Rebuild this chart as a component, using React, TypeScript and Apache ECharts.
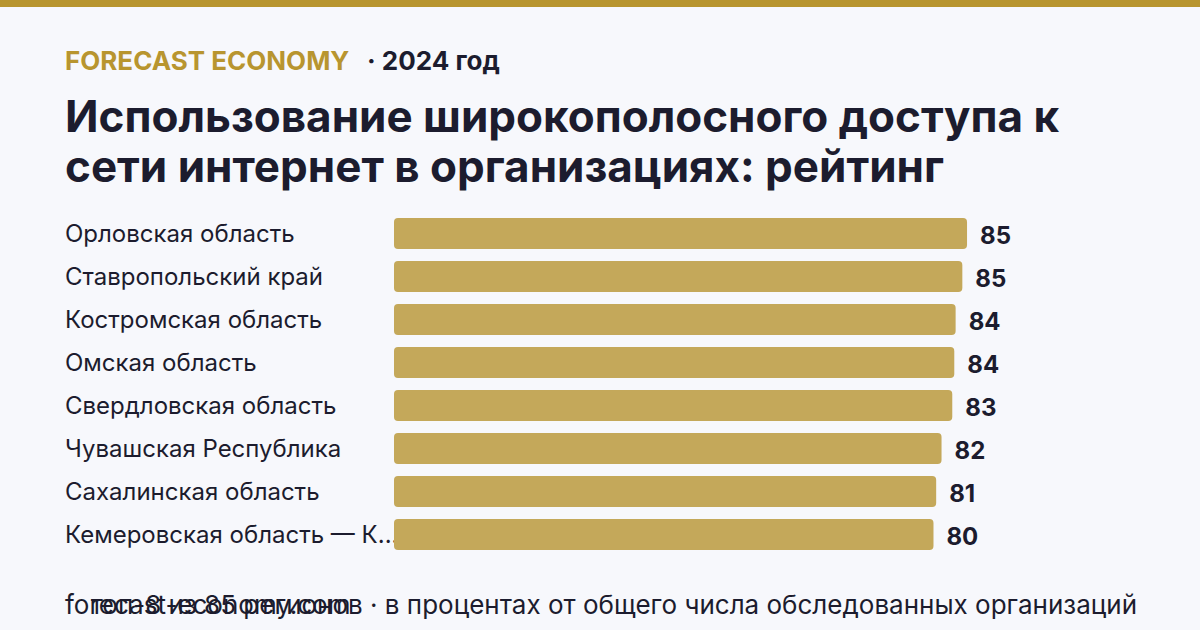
import React, { useEffect, useRef } from "react";
import * as echarts from "echarts";

const regions = [
  "Орловская область",
  "Ставропольский край",
  "Костромская область",
  "Омская область",
  "Свердловская область",
  "Чувашская Республика",
  "Сахалинская область",
  "Кемеровская область — Кузбасс",
];
const values = [85.4, 84.7, 83.7, 83.5, 83.2, 81.6, 80.8, 80.4];

const brand = "FORECAST ECONOMY";
const yearText = "· 2024 год";
const titleLines = ["Использование широкополосного доступа к", "сети интернет в организациях: рейтинг"];
const source = "forecast-economy.com";
const note = "топ-8 из 85 регионов · в процентах от общего числа обследованных организаций";

const GOLD = "#b8952f";
const BAR = "#c4a85a";
const DARK = "#1c1c2e";
const BG = "#f7f8fc";
const FONT = "Inter, 'Noto Sans', sans-serif";
const MAX_CHARS = 23;

export default function App() {
  const ref = useRef<HTMLDivElement>(null);
  useEffect(() => {
    if (!ref.current) return;
    const chart = echarts.init(ref.current, null, { renderer: "svg" });
    chart.setOption({
      animation: false,
      backgroundColor: BG,
      textStyle: { fontFamily: FONT },
      graphic: [
        { type: "rect", left: 0, top: 0, shape: { width: 1200, height: 7 }, style: { fill: GOLD } },
        {
          type: "text", left: 65, top: 47,
          style: { text: brand, font: `bold 26px ${FONT}`, fill: GOLD },
        },
        {
          type: "text", left: 367, top: 47,
          style: { text: yearText, font: `bold 26px ${FONT}`, fill: DARK },
        },
        {
          type: "text", left: 65, top: 94,
          style: { text: titleLines[0], font: `bold 44px ${FONT}`, fill: DARK },
        },
        {
          type: "text", left: 65, top: 144,
          style: { text: titleLines[1], font: `bold 44px ${FONT}`, fill: DARK },
        },
        {
          type: "text", left: 65, top: 591,
          style: { text: source, font: `26px ${FONT}`, fill: DARK },
        },
        {
          type: "text", right: 63, top: 591,
          style: { text: note, font: `26px ${FONT}`, fill: DARK },
        },
      ],
      grid: { left: 394, top: 212, width: 671, height: 344, containLabel: false },
      xAxis: {
        type: "value", min: 0, max: 100, show: false,
      },
      yAxis: {
        type: "category", data: regions, inverse: true,
        axisLine: { show: false }, axisTick: { show: false },
        axisLabel: {
          margin: 329, align: "left", padding: [4, 0, 0, 0],
          formatter: (v: string) => (v.length > MAX_CHARS ? v.slice(0, MAX_CHARS) + "..." : v),
          fontSize: 24, color: DARK, fontFamily: FONT,
        },
      },
      series: [
        {
          type: "bar", data: values, barWidth: 31,
          itemStyle: { color: BAR, borderRadius: 4 },
          label: {
            show: true, position: "right", distance: 13, offset: [0, 2],
            formatter: (p: any) => String(Math.round(p.value)),
            fontSize: 24, fontWeight: "bold", color: DARK, fontFamily: FONT,
          },
        },
      ],
    });
    return () => chart.dispose();
  }, []);
  return (
    <div style={{ position: "fixed", left: 0, top: 0, width: 1200, height: 630, background: BG }}>
      <div ref={ref} style={{ width: 1200, height: 630 }} />
    </div>
  );
}
